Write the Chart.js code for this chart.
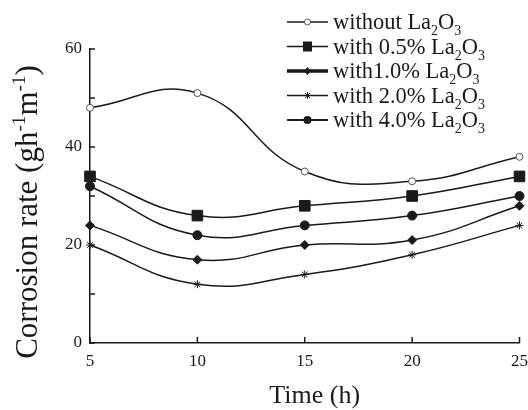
<!DOCTYPE html>
<html>
<head>
<meta charset="utf-8">
<script src="https://cdn.jsdelivr.net/npm/chart.js@4.4.1/dist/chart.umd.min.js"></script>
<style>
  body { margin: 0; background: #fff; }
</style>
</head>
<body>
<canvas id="chart" width="528" height="410"></canvas>
<script>
// data
const times = [5, 10, 15, 20, 25];
const without = [48, 51, 35, 33, 38];
const pct05 = [34, 26, 28, 30, 34];
const pct10 = [24, 17, 20, 21, 28];
const pct20 = [20, 12, 14, 18, 24];
const pct40 = [32, 22, 24, 26, 30];
const yLabels = [0, 20, 40, 60];
const legendLabels = [
  [["without La", ""], ["2", "sub"], ["O", ""], ["3", "sub"]],
  [["with 0.5% La", ""], ["2", "sub"], ["O", ""], ["3", "sub"]],
  [["with1.0% La", ""], ["2", "sub"], ["O", ""], ["3", "sub"]],
  [["with 2.0% La", ""], ["2", "sub"], ["O", ""], ["3", "sub"]],
  [["with 4.0% La", ""], ["2", "sub"], ["O", ""], ["3", "sub"]]
];

const FONT = "'Liberation Serif', 'Times New Roman', serif";
const INK = "#1a1a1a";

function pts(ys) {
  return times.map((t, i) => ({ x: t, y: ys[i] }));
}

// draw text with sub/superscript pieces, returns end x
function drawRich(ctx, parts, x, y, size) {
  ctx.textBaseline = "alphabetic";
  ctx.textAlign = "left";
  parts.forEach(([txt, kind]) => {
    let s = size, dy = 0;
    if (kind === "sub") { s = size * 0.62; dy = size * 0.28; }
    if (kind === "sup") { s = size * 0.62; dy = -size * 0.38; }
    ctx.font = s + "px " + FONT;
    ctx.fillText(txt, x, y + dy);
    x += ctx.measureText(txt).width;
  });
  return x;
}

function drawMarker(ctx, style, x, y) {
  ctx.save();
  ctx.fillStyle = INK;
  ctx.strokeStyle = INK;
  ctx.lineWidth = 1;
  ctx.beginPath();
  if (style === "open") {
    ctx.fillStyle = "#fff";
    ctx.strokeStyle = "#555";
    ctx.arc(x, y, 3, 0, Math.PI * 2);
    ctx.fill(); ctx.stroke();
  } else if (style === "rect") {
    ctx.fillRect(x - 4.5, y - 5, 9, 10);
  } else if (style === "diamond") {
    ctx.moveTo(x, y - 4); ctx.lineTo(x + 3.5, y); ctx.lineTo(x, y + 4); ctx.lineTo(x - 3.5, y);
    ctx.closePath(); ctx.fill();
  } else if (style === "star") {
    for (let k = 0; k < 4; k++) {
      const a = k * Math.PI / 4;
      ctx.moveTo(x - 3.5 * Math.cos(a), y - 3.5 * Math.sin(a));
      ctx.lineTo(x + 3.5 * Math.cos(a), y + 3.5 * Math.sin(a));
    }
    ctx.stroke();
  } else {
    ctx.arc(x, y, 4, 0, Math.PI * 2);
    ctx.fill();
  }
  ctx.restore();
}

const legendStyles = ["open", "rect", "diamond", "star", "dot"];
const legendWidths = [1.5, 1.5, 3.5, 1.3, 2];

const decorations = {
  id: "decorations",
  afterDraw(chart) {
    const ctx = chart.ctx;
    const xs = chart.scales.x, ys = chart.scales.y;
    ctx.save();
    ctx.strokeStyle = INK;
    ctx.lineWidth = 1.5;
    // inward tick marks
    ctx.beginPath();
    for (let v = 0; v <= 60; v += 10) {
      const py = ys.getPixelForValue(v);
      ctx.moveTo(xs.left, py);
      ctx.lineTo(xs.left + 5, py);
    }
    times.forEach((t) => {
      const px = xs.getPixelForValue(t);
      ctx.moveTo(px, ys.bottom);
      ctx.lineTo(px, ys.bottom - 6);
    });
    ctx.stroke();

    ctx.fillStyle = INK;
    // x title
    ctx.font = "26px " + FONT;
    ctx.textAlign = "center";
    ctx.textBaseline = "middle";
    ctx.fillText("Time (h)", (xs.left + xs.right) / 2 + 10, 396);

    // y title, rotated
    const ySize = 31;
    ctx.save();
    ctx.translate(28, 212);
    ctx.rotate(-Math.PI / 2);
    const yTitle = [["Corrosion rate (gh", ""], ["-1", "sup"], ["m", ""], ["-1", "sup"], [")", ""]];
    let w = 0;
    yTitle.forEach(([txt, kind]) => {
      ctx.font = (kind ? ySize * 0.62 : ySize) + "px " + FONT;
      w += ctx.measureText(txt).width;
    });
    drawRich(ctx, yTitle, -w / 2, 9, ySize);
    ctx.restore();

    // legend
    const lx0 = 287, lx1 = 328, tx = 333;
    legendLabels.forEach((parts, i) => {
      const cy = 22 + i * 24.5;
      ctx.beginPath();
      ctx.lineWidth = legendWidths[i];
      ctx.moveTo(lx0, cy);
      ctx.lineTo(lx1, cy);
      ctx.stroke();
      drawMarker(ctx, legendStyles[i], (lx0 + lx1) / 2, cy);
      ctx.fillStyle = INK;
      drawRich(ctx, parts, tx, cy + 7, 22.5);
    });
    ctx.restore();
  }
};

function series(label, ys, style, radius, extra) {
  return Object.assign({
    label: label,
    data: pts(ys),
    borderColor: INK,
    backgroundColor: INK,
    borderWidth: 1.5,
    pointStyle: style,
    pointRadius: radius,
    pointBorderWidth: 1,
    pointBackgroundColor: INK,
    pointBorderColor: INK,
    tension: 0.45,
    clip: false
  }, extra || {});
}

new Chart(document.getElementById("chart").getContext("2d"), {
  type: "line",
  data: {
    datasets: [
      series("without La2O3", without, "circle", 3.5, { pointBackgroundColor: "#fff", pointBorderColor: "#555" }),
      series("with 0.5% La2O3", pct05, "rect", 7.5),
      series("with1.0% La2O3", pct10, "rectRot", 4.5),
      series("with 2.0% La2O3", pct20, "star", 4),
      series("with 4.0% La2O3", pct40, "circle", 4.5)
    ]
  },
  options: {
    responsive: false,
    animation: false,
    layout: { padding: { left: 0, right: 8, top: 49, bottom: 0 } },
    plugins: {
      legend: { display: false },
      tooltip: { enabled: false }
    },
    scales: {
      x: {
        type: "linear",
        min: 5,
        max: 25,
        afterFit: (s) => { s.height = 67; s.paddingLeft = 0; s.paddingRight = 0; },
        grid: { display: false, drawTicks: false },
        border: { display: true, color: INK, width: 1.5 },
        ticks: {
          stepSize: 5,
          padding: 8,
          color: INK,
          font: { family: FONT, size: 17 },
          maxRotation: 0
        }
      },
      y: {
        min: 0,
        max: 60,
        afterFit: (s) => { s.width = 90; s.paddingTop = 0; s.paddingBottom = 0; },
        grid: { display: false, drawTicks: false },
        border: { display: true, color: INK, width: 1.5 },
        ticks: {
          stepSize: 10,
          padding: 8,
          color: INK,
          font: { family: FONT, size: 17 },
          callback: (v) => (yLabels.includes(v) ? String(v) : "")
        }
      }
    }
  },
  plugins: [decorations]
});
</script>
</body>
</html>
